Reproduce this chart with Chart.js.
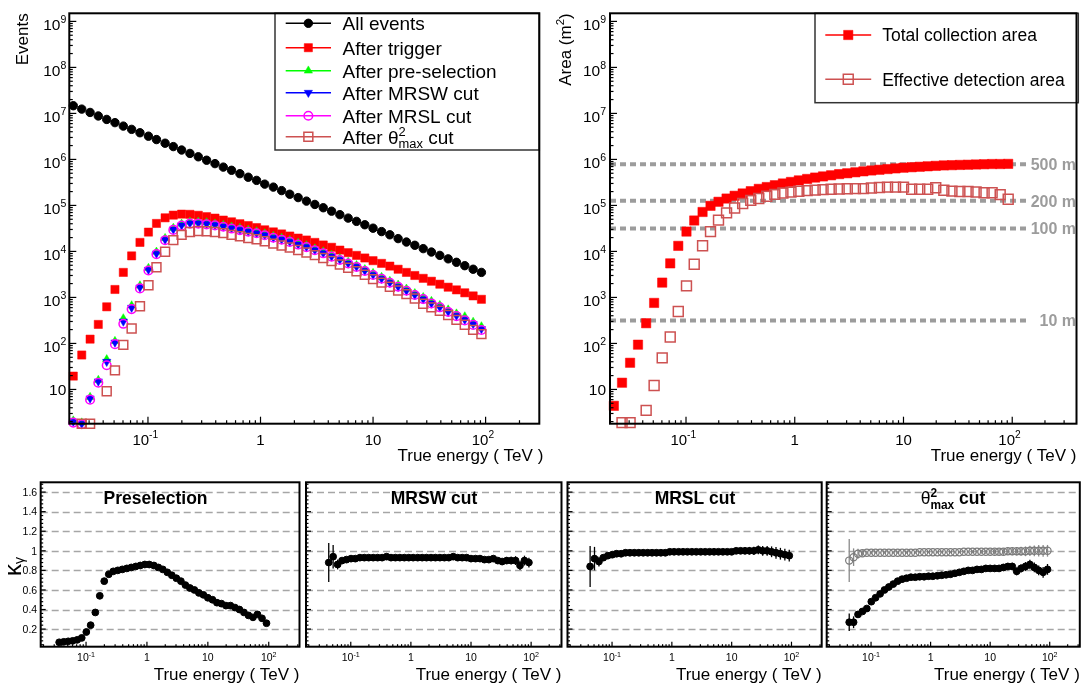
<!DOCTYPE html>
<html>
<head>
<meta charset="utf-8">
<title>Event selection and collection area</title>
<script src="https://cdn.jsdelivr.net/npm/chart.js@4.4.1/dist/chart.umd.min.js"></script>
<style>
  html, body { margin: 0; padding: 0; background: #fff; }
  #page { position: relative; width: 1085px; height: 684px; overflow: hidden; }
  #page canvas { position: absolute; left: 0; top: 0; }
</style>
</head>
<body>
<div id="page">
  <canvas id="events" width="1085" height="684"></canvas>
  <canvas id="area" width="1085" height="684"></canvas>
  <canvas id="kPre" width="1085" height="684"></canvas>
  <canvas id="kMRSW" width="1085" height="684"></canvas>
  <canvas id="kMRSL" width="1085" height="684"></canvas>
  <canvas id="kTheta" width="1085" height="684"></canvas>
</div>
<script>
const FONT = "'Liberation Sans', Arial, Helvetica, sans-serif";
const W = 1085, H = 684;

// bin centres in true energy (TeV)
const energy = [
  0.0217, 0.0258, 0.0306, 0.0362, 0.0430, 0.0509, 0.0604, 0.0716, 0.0849, 0.101,
  0.119, 0.142, 0.168, 0.199, 0.236, 0.280, 0.332, 0.394, 0.467, 0.553,
  0.656, 0.778, 0.923, 1.09, 1.30, 1.54, 1.82, 2.16, 2.56, 3.04,
  3.61, 4.28, 5.07, 6.01, 7.13, 8.45, 10.0, 11.9, 14.1, 16.7,
  19.8, 23.5, 27.9, 33.0, 39.2, 46.5, 55.1, 65.3, 77.5, 91.8
];

// event counts per bin
const allEvents = [
  1.47e7, 1.24e7, 1.05e7, 8.8e6, 7.4e6, 6.3e6, 5.3e6, 4.5e6, 3.8e6, 3.2e6,
  2.7e6, 2.25e6, 1.9e6, 1.6e6, 1.35e6, 1.14e6, 9.6e5, 8.1e5, 6.8e5, 5.8e5,
  4.9e5, 4.1e5, 3.5e5, 2.9e5, 2.5e5, 2.1e5, 1.75e5, 1.48e5, 1.24e5, 1.05e5,
  8.9e4, 7.5e4, 6.3e4, 5.3e4, 4.5e4, 3.8e4, 3.2e4, 2.7e4, 2.3e4, 1.9e4,
  1.6e4, 1.36e4, 1.15e4, 9.7e3, 8.2e3, 6.9e3, 5.8e3, 4.9e3, 4.1e3, 3.5e3
];
const afterTrigger = [
  19.5, 56, 124, 259, 625, 1490, 3500, 8000, 1.57e4, 2.63e4,
  4.06e4, 5.38e4, 6.15e4, 6.47e4, 6.4e4, 6.1e4, 5.7e4, 5.3e4, 4.8e4, 4.4e4,
  4.0e4, 3.65e4, 3.3e4, 2.95e4, 2.66e4, 2.4e4, 2.16e4, 1.95e4, 1.77e4, 1.57e4,
  1.38e4, 1.23e4, 1.07e4, 9.4e3, 8.2e3, 7.2e3, 6.3e3, 5.5e3, 4.8e3, 4.1e3,
  3.5e3, 3.0e3, 2.6e3, 2.25e3, 1.94e3, 1.67e3, 1.46e3, 1.26e3, 1.08e3, 910
];
const afterPresel = [
  2.1, 1.9, 6.8, 16, 45, 112, 349, 667, 1810, 4350,
  9780, 1.94e4, 3.23e4, 3.98e4, 4.41e4, 4.41e4, 4.25e4, 3.99e4, 3.76e4, 3.44e4,
  3.19e4, 2.92e4, 2.69e4, 2.44e4, 2.15e4, 1.96e4, 1.75e4, 1.53e4, 1.34e4, 1.15e4,
  9900, 8400, 7000, 5900, 5000, 4090, 3370, 2770, 2270, 1880,
  1540, 1230, 1010, 831, 678, 543, 444, 385, 293, 234
];
const afterMRSW = [
  2.0, 1.8, 6.4, 15, 40, 105, 300, 600, 1650, 4000,
  9000, 1.8e4, 3.0e4, 3.7e4, 4.1e4, 4.1e4, 3.95e4, 3.75e4, 3.5e4, 3.2e4,
  2.97e4, 2.72e4, 2.5e4, 2.27e4, 2.0e4, 1.82e4, 1.63e4, 1.42e4, 1.25e4, 1.07e4,
  9200, 7800, 6600, 5500, 4650, 3800, 3100, 2550, 2090, 1710,
  1400, 1130, 912, 740, 610, 489, 400, 327, 264, 206
];
const afterMRSL = [
  1.9, 1.75, 6.0, 14, 33.6, 96.6, 267, 558, 1570, 3840,
  8730, 1.75e4, 2.94e4, 3.63e4, 4.02e4, 4.02e4, 3.87e4, 3.68e4, 3.43e4, 3.14e4,
  2.91e4, 2.67e4, 2.48e4, 2.25e4, 1.98e4, 1.80e4, 1.61e4, 1.41e4, 1.24e4, 1.06e4,
  9100, 7700, 6500, 5450, 4600, 3760, 3070, 2550, 2090, 1710,
  1400, 1130, 921, 740, 610, 484, 392, 317, 253, 196
];
const afterTheta = [
  null, 1.8, 1.8, null, 9.1, 26, 93, 212, 643, 1840,
  4540, 9800, 1.76e4, 2.29e4, 2.65e4, 2.77e4, 2.75e4, 2.65e4, 2.5e4, 2.29e4,
  2.14e4, 1.96e4, 1.84e4, 1.67e4, 1.48e4, 1.35e4, 1.22e4, 1.07e4, 9500, 8300,
  7200, 6200, 5200, 4400, 3700, 3100, 2500, 2100, 1710, 1420,
  1180, 950, 728, 607, 512, 416, 325, 254, 197, 159
];

// areas in m^2
const totalArea = [
  4.4, 14, 38, 94, 275, 760, 2100, 5500, 1.32e4, 2.7e4,
  4.7e4, 7.2e4, 9.8e4, 1.2e5, 1.41e5, 1.62e5, 1.82e5, 2.04e5, 2.29e5, 2.51e5,
  2.75e5, 3.0e5, 3.24e5, 3.5e5, 3.76e5, 4.03e5, 4.27e5, 4.52e5, 4.79e5, 5.0e5,
  5.25e5, 5.5e5, 5.75e5, 5.96e5, 6.17e5, 6.38e5, 6.6e5, 6.76e5, 6.92e5, 7.08e5,
  7.24e5, 7.41e5, 7.5e5, 7.59e5, 7.67e5, 7.76e5, 7.85e5, 7.94e5, 7.94e5, 8.0e5
];
const effArea = [
  null, 1.9, 1.9, null, 3.5, 12.2, 48.5, 138, 495, 1780,
  5250, 1.33e4, 2.7e4, 4.8e4, 6.9e4, 8.8e4, 1.1e5, 1.29e5, 1.41e5, 1.58e5,
  1.74e5, 1.86e5, 1.95e5, 2.03e5, 2.1e5, 2.15e5, 2.2e5, 2.25e5, 2.28e5, 2.3e5,
  2.32e5, 2.32e5, 2.4e5, 2.45e5, 2.5e5, 2.5e5, 2.5e5, 2.25e5, 2.25e5, 2.25e5,
  2.42e5, 2.14e5, 2.05e5, 2.0e5, 2.0e5, 1.96e5, 1.88e5, 1.88e5, 1.72e5, 1.36e5
];

// cut efficiencies (kappa) and their errors
const kappaPresel = [
  null, null, null, 0.065, 0.07, 0.075, 0.08, 0.09, 0.11, 0.17,
  0.24, 0.37, 0.54, 0.69, 0.76, 0.79, 0.80, 0.81, 0.82, 0.83,
  0.84, 0.85, 0.86, 0.86, 0.85, 0.83, 0.81, 0.78, 0.75, 0.72,
  0.69, 0.65, 0.62, 0.60, 0.57, 0.55, 0.52, 0.50, 0.47, 0.46,
  0.44, 0.44, 0.42, 0.40, 0.37, 0.34, 0.32, 0.35, 0.31, 0.26
];
const kappaMRSW = [
  null, null, null, null, 0.88, 0.94, 0.86, 0.90, 0.91, 0.92,
  0.92, 0.93, 0.93, 0.93, 0.93, 0.93, 0.93, 0.94, 0.93, 0.93,
  0.93, 0.93, 0.93, 0.93, 0.93, 0.93, 0.93, 0.93, 0.93, 0.93,
  0.93, 0.93, 0.94, 0.93, 0.93, 0.93, 0.92, 0.92, 0.92, 0.91,
  0.91, 0.92, 0.90, 0.89, 0.90, 0.90, 0.90, 0.85, 0.90, 0.88
];
const errMRSW = [
  null, null, null, null, 0.20, 0.12, 0.05, 0.03, 0.02, 0.015,
  0.01, 0.01, 0.01, 0.01, 0.01, 0.01, 0.01, 0.01, 0.01, 0.01,
  0.01, 0.01, 0.01, 0.01, 0.01, 0.01, 0.01, 0.01, 0.012, 0.012,
  0.012, 0.014, 0.014, 0.016, 0.016, 0.018, 0.02, 0.02, 0.022, 0.024,
  0.026, 0.028, 0.03, 0.032, 0.035, 0.038, 0.045, 0.045, 0.05, 0.05
];
const kappaMRSL = [
  null, null, null, null, 0.84, 0.92, 0.89, 0.93, 0.95, 0.96,
  0.97, 0.97, 0.98, 0.98, 0.98, 0.98, 0.98, 0.98, 0.98, 0.98,
  0.98, 0.98, 0.99, 0.99, 0.99, 0.99, 0.99, 0.99, 0.99, 0.99,
  0.99, 0.99, 0.99, 0.99, 0.99, 0.99, 0.99, 1.00, 1.00, 1.00,
  1.00, 1.00, 1.01, 1.00, 1.00, 0.99, 0.98, 0.97, 0.96, 0.95
];
const errMRSL = [
  null, null, null, null, 0.21, 0.12, 0.05, 0.03, 0.02, 0.015,
  0.01, 0.01, 0.01, 0.01, 0.01, 0.01, 0.01, 0.01, 0.01, 0.01,
  0.01, 0.01, 0.01, 0.01, 0.01, 0.01, 0.01, 0.01, 0.012, 0.014,
  0.016, 0.018, 0.02, 0.022, 0.024, 0.026, 0.028, 0.03, 0.032, 0.035,
  0.038, 0.042, 0.045, 0.05, 0.05, 0.055, 0.06, 0.06, 0.06, 0.06
];
const kappaTheta = [
  null, null, null, null, 0.27, 0.27, 0.35, 0.38, 0.41, 0.48,
  0.52, 0.56, 0.60, 0.63, 0.66, 0.69, 0.71, 0.72, 0.73, 0.73,
  0.735, 0.735, 0.74, 0.74, 0.745, 0.75, 0.755, 0.76, 0.77, 0.78,
  0.79, 0.80, 0.80, 0.81, 0.81, 0.82, 0.82, 0.82, 0.82, 0.83,
  0.84, 0.84, 0.79, 0.82, 0.84, 0.86, 0.83, 0.80, 0.78, 0.81
];
const errTheta = [
  null, null, null, null, 0.09, 0.06, 0.03, 0.025, 0.02, 0.015,
  0.01, 0.01, 0.01, 0.01, 0.01, 0.01, 0.01, 0.01, 0.01, 0.01,
  0.01, 0.01, 0.01, 0.01, 0.01, 0.01, 0.01, 0.01, 0.01, 0.01,
  0.012, 0.014, 0.016, 0.018, 0.02, 0.022, 0.025, 0.028, 0.03, 0.032,
  0.035, 0.038, 0.04, 0.042, 0.045, 0.048, 0.05, 0.05, 0.055, 0.055
];
const kappaThetaOpen = [
  null, null, null, null, 0.90, 0.935, 0.97, 0.975, 0.98, 0.98,
  0.98, 0.98, 0.98, 0.98, 0.98, 0.98, 0.98, 0.98, 0.98, 0.98,
  0.985, 0.985, 0.985, 0.985, 0.985, 0.985, 0.985, 0.985, 0.985, 0.985,
  0.99, 0.99, 0.99, 0.99, 0.99, 0.99, 0.99, 0.99, 0.99, 0.99,
  0.995, 0.995, 0.995, 0.995, 0.995, 1.0, 1.0, 1.0, 1.0, 1.0
];
const errThetaOpen = [
  null, null, null, null, 0.22, 0.09, 0.05, 0.03, 0.02, 0.015,
  0.01, 0.01, 0.01, 0.01, 0.01, 0.01, 0.01, 0.01, 0.01, 0.01,
  0.01, 0.01, 0.01, 0.01, 0.01, 0.01, 0.01, 0.01, 0.01, 0.01,
  0.012, 0.014, 0.016, 0.018, 0.02, 0.022, 0.025, 0.028, 0.03, 0.033,
  0.036, 0.04, 0.043, 0.046, 0.05, 0.052, 0.055, 0.058, 0.06, 0.06
];

// detector radii for the area guides (m) and where the guides stop (TeV)
const radiiM = [500, 200, 100, 10];
const refLineEnd = 134;

const seriesNames = ['All events', 'After trigger', 'After pre-selection', 'After MRSW cut', 'After MRSL cut', 'After θ²max cut'];
const areaNames = ['Total collection area', 'Effective detection area'];
const panelTitles = ['Preselection', 'MRSW cut', 'MRSL cut', 'θ²max cut'];
const kappaTicks = [0.2, 0.4, 0.6, 0.8, 1, 1.2, 1.4, 1.6];
const xDecades = [-1, 0, 1, 2];
const yDecades = [1, 2, 3, 4, 5, 6, 7, 8, 9];

function series(vals) {
  return energy.map((x, i) => ({ x: x, y: vals[i] }));
}

function fontStr(size, bold) {
  return (bold ? 'bold ' : '') + size + 'px ' + FONT;
}

// text made of runs; a run with under:true sits under the previous one (sub below sup)
function drawRuns(ctx, runs, x, y, align, color) {
  const w = runs.map(r => { ctx.font = fontStr(r.size, r.bold); return ctx.measureText(r.t).width; });
  const pos = [];
  let cx = 0, lastStart = 0, lastW = 0;
  runs.forEach((r, i) => {
    if (r.under) {
      pos.push(lastStart);
      lastW = Math.max(lastW, w[i]);
      cx = lastStart + lastW;
    } else {
      pos.push(cx);
      lastStart = cx; lastW = w[i];
      cx += w[i];
    }
  });
  const x0 = align === 'right' ? x - cx : align === 'center' ? x - cx / 2 : x;
  ctx.save();
  ctx.fillStyle = color || '#000';
  ctx.textAlign = 'left';
  ctx.textBaseline = 'alphabetic';
  runs.forEach((r, i) => {
    ctx.font = fontStr(r.size, r.bold);
    ctx.fillText(r.t, x0 + pos[i], y + (r.dy || 0));
  });
  ctx.restore();
}

function richLabel(text, size, bold) {
  const i = text.indexOf('θ²max');
  if (i < 0) return [{ t: text, size: size, bold: bold }];
  const s = size * 0.68;
  return [
    { t: text.slice(0, i), size: size, bold: bold },
    { t: 'θ', size: size, bold: false },
    { t: '2', size: s, bold: bold, dy: -size * 0.42 },
    { t: 'max', size: s, bold: bold, dy: size * 0.26, under: true },
    { t: text.slice(i + 5), size: size, bold: bold }
  ];
}

function powRuns(e, size) {
  if (e === 0) return [{ t: '1', size: size }];
  if (e === 1) return [{ t: '10', size: size }];
  return [{ t: '10', size: size }, { t: String(e), size: size * 0.68, dy: -size * 0.45 }];
}

function logTicks(min, max) {
  const out = [];
  for (let e = Math.floor(Math.log10(min)); e <= Math.ceil(Math.log10(max)); e++) {
    for (let m = 1; m <= 9; m++) {
      const v = m * Math.pow(10, e);
      if (v > min && v < max) out.push({ v: v, major: m === 1 });
    }
  }
  return out;
}

function drawMarker(ctx, ds, x, y) {
  const r = ds.pointRadius;
  ctx.save();
  ctx.fillStyle = ds.pointBackgroundColor;
  ctx.strokeStyle = ds.pointBorderColor;
  ctx.lineWidth = ds.pointBorderWidth;
  ctx.beginPath();
  if (ds.pointStyle === 'circle') {
    ctx.arc(x, y, r, 0, Math.PI * 2);
  } else if (ds.pointStyle === 'rect') {
    const h = r * Math.SQRT1_2;
    ctx.rect(x - h, y - h, 2 * h, 2 * h);
  } else {
    let a = (ds.pointRotation || 0) * Math.PI / 180;
    for (let k = 0; k < 3; k++) {
      ctx.lineTo(x + Math.sin(a) * r, y - Math.cos(a) * r);
      a += Math.PI * 2 / 3;
    }
    ctx.closePath();
  }
  ctx.fill();
  ctx.stroke();
  ctx.restore();
}

function drawLegend(chart, L) {
  const ctx = chart.ctx;
  const b = L.box;
  ctx.save();
  ctx.fillStyle = '#fff';
  ctx.fillRect(b[0], b[1], b[2] - b[0], b[3] - b[1]);
  ctx.strokeStyle = '#333';
  ctx.lineWidth = 1.5;
  ctx.strokeRect(b[0], b[1], b[2] - b[0], b[3] - b[1]);
  L.rows.forEach((rowY, k) => {
    const ds = chart.data.datasets[k];
    ctx.strokeStyle = ds.pointBorderColor;
    ctx.lineWidth = 1.5;
    ctx.beginPath();
    ctx.moveTo(L.line[0], rowY);
    ctx.lineTo(L.line[1], rowY);
    ctx.stroke();
    drawMarker(ctx, ds, (L.line[0] + L.line[1]) / 2, rowY);
    drawRuns(ctx, richLabel(L.names[k], L.size, false), L.textX, rowY + 0.36 * L.size, 'left');
  });
  ctx.restore();
}

// error bars under each point that carries a yErr entry
const errorBars = {
  id: 'errorBars',
  beforeDatasetDraw(chart, args) {
    const ds = chart.data.datasets[args.index];
    if (!ds.yErr) return;
    const ctx = chart.ctx, ys = chart.scales.y;
    ctx.save();
    ctx.strokeStyle = ds.errColor || ds.pointBorderColor;
    ctx.lineWidth = 1.3;
    args.meta.data.forEach((pt, i) => {
      const v = ds.data[i].y, e = ds.yErr[i];
      if (v == null || !e) return;
      ctx.beginPath();
      ctx.moveTo(pt.x, ys.getPixelForValue(v - e));
      ctx.lineTo(pt.x, ys.getPixelForValue(v + e));
      ctx.stroke();
    });
    ctx.restore();
  }
};

// frame, inward ticks, labels and titles in the style of the analysis plots
function framePlugin(cfg) {
  return {
    id: 'frame',
    beforeDatasetsDraw(chart) {
      if (!cfg.hGrid) return;
      const { ctx, chartArea: a, scales: { y } } = chart;
      ctx.save();
      ctx.strokeStyle = '#a6a6a6';
      ctx.lineWidth = 1.3;
      ctx.setLineDash([7, 4]);
      cfg.hGrid.forEach(v => {
        const py = Math.round(y.getPixelForValue(v)) + 0.5;
        ctx.beginPath();
        ctx.moveTo(a.left, py);
        ctx.lineTo(a.right, py);
        ctx.stroke();
      });
      ctx.restore();
    },
    afterDatasetsDraw(chart) {
      const { ctx, chartArea: a, scales: { x, y } } = chart;
      if (cfg.extra) cfg.extra(chart);
      ctx.save();
      ctx.strokeStyle = '#000';
      ctx.lineWidth = 1.2;
      logTicks(x.min, x.max).forEach(t => {
        const px = x.getPixelForValue(t.v);
        const len = t.major ? cfg.tickMajor : cfg.tickMinor;
        ctx.beginPath();
        ctx.moveTo(px, a.bottom);
        ctx.lineTo(px, a.bottom - len);
        ctx.stroke();
      });
      let yt;
      if (y.type === 'logarithmic') {
        yt = logTicks(y.min, y.max);
      } else {
        yt = [];
        for (let k = 1; k * 0.04 < y.max; k++) {
          if (k * 0.04 > y.min) yt.push({ v: k * 0.04, major: k % 5 === 0 });
        }
      }
      yt.forEach(t => {
        const py = y.getPixelForValue(t.v);
        const len = t.major ? cfg.tickMajor : cfg.tickMinor;
        ctx.beginPath();
        ctx.moveTo(a.left, py);
        ctx.lineTo(a.left + len, py);
        ctx.stroke();
      });
      ctx.lineWidth = 2;
      ctx.strokeRect(a.left, a.top, a.right - a.left, a.bottom - a.top);
      ctx.restore();

      // x tick labels
      const xs = cfg.xLabelSize;
      xDecades.forEach(e => {
        const px = x.getPixelForValue(Math.pow(10, e)) + (e < 0 || e > 1 ? cfg.expShift : 0);
        drawRuns(ctx, powRuns(e, xs), px, a.bottom + cfg.xLabelGap + 0.36 * xs, 'center');
      });
      // y tick labels
      if (cfg.yLabels === 'log') {
        const s = cfg.yLabelSize;
        yDecades.forEach(e => {
          const py = y.getPixelForValue(Math.pow(10, e));
          drawRuns(ctx, powRuns(e, s), a.left - cfg.yLabelGap, py + 0.36 * s + (e > 1 ? 0.2 * s : 0), 'right');
        });
      } else if (cfg.yLabels === 'lin') {
        const s = cfg.yLabelSize;
        kappaTicks.forEach(v => {
          const py = y.getPixelForValue(v);
          drawRuns(ctx, [{ t: v === 1 ? '1' : v.toFixed(1), size: s }], a.left - cfg.yLabelGap, py + 0.36 * s, 'right');
        });
      }
      // axis titles
      drawRuns(ctx, [{ t: 'True energy ( TeV )', size: 17 }], a.right + cfg.xTitleDx, cfg.xTitleY, 'right');
      if (cfg.yTitle) {
        ctx.save();
        ctx.translate(cfg.yTitle.x, cfg.yTitle.y);
        ctx.rotate(-Math.PI / 2);
        drawRuns(ctx, cfg.yTitle.runs, 0, 0, cfg.yTitle.align);
        ctx.restore();
      }
      if (cfg.title) {
        drawRuns(ctx, richLabel(cfg.title, 17.5, true), cfg.titleX, 504, 'center');
      }
    }
  };
}

function makeChart(id, box, xr, yr, yType, datasets, cfg) {
  return new Chart(document.getElementById(id), {
    type: 'scatter',
    data: { datasets: datasets },
    options: {
      responsive: false,
      animation: false,
      events: [],
      devicePixelRatio: 1,
      layout: { padding: { left: 0, top: box.t, right: W - box.r, bottom: 0 } },
      plugins: { legend: { display: false }, tooltip: { enabled: false } },
      scales: {
        x: {
          type: 'logarithmic', min: xr[0], max: xr[1],
          ticks: { display: false }, grid: { display: false }, border: { display: false },
          afterFit: s => { s.height = H - box.b; }
        },
        y: {
          type: yType, min: yr[0], max: yr[1],
          ticks: { display: false }, grid: { display: false }, border: { display: false },
          afterFit: s => { s.width = box.l; }
        }
      }
    },
    plugins: [errorBars, framePlugin(cfg)]
  });
}

function markers(label, vals, style, order) {
  return Object.assign({ label: label, data: series(vals), showLine: false, clip: false, order: order }, style);
}

const OPEN = 'rgba(0,0,0,0)';
const THETA_RED = '#cd5151';
const styleBlack = { pointStyle: 'circle', pointRadius: 4.2, pointBackgroundColor: '#000', pointBorderColor: '#000', pointBorderWidth: 1 };
const styleRed = { pointStyle: 'rect', pointRadius: 5.8, pointBackgroundColor: '#ff0000', pointBorderColor: '#ff0000', pointBorderWidth: 0.5 };
const styleGreen = { pointStyle: 'triangle', pointRadius: 4.8, pointBackgroundColor: '#00ff00', pointBorderColor: '#00ff00', pointBorderWidth: 0.5 };
const styleBlue = { pointStyle: 'triangle', pointRotation: 180, pointRadius: 4.8, pointBackgroundColor: '#0000ff', pointBorderColor: '#0000ff', pointBorderWidth: 0.5 };
const styleMagenta = { pointStyle: 'circle', pointRadius: 4.3, pointBackgroundColor: OPEN, pointBorderColor: '#ff00ff', pointBorderWidth: 1.5 };
const styleTheta = { pointStyle: 'rect', pointRadius: 6.3, pointBackgroundColor: OPEN, pointBorderColor: THETA_RED, pointBorderWidth: 1.5 };

// ---- events per selection stage ----
const evBox = { l: 69.3, t: 13.3, r: 539.3, b: 423.7 };
makeChart('events', evBox, [0.02, 300], [1.8, 1.5e9], 'logarithmic', [
  markers(seriesNames[0], allEvents, styleBlack, 6),
  markers(seriesNames[1], afterTrigger, styleRed, 5),
  markers(seriesNames[2], afterPresel, styleGreen, 4),
  markers(seriesNames[3], afterMRSW, styleBlue, 3),
  markers(seriesNames[4], afterMRSL, styleMagenta, 2),
  markers(seriesNames[5], afterTheta, styleTheta, 1)
], {
  tickMajor: 7, tickMinor: 3.5,
  xLabelSize: 15, xLabelGap: 16, expShift: -2.7,
  yLabels: 'log', yLabelSize: 15.5, yLabelGap: 3,
  xTitleDx: 4, xTitleY: 460.5,
  yTitle: { x: 27.5, y: 13.3, align: 'right', runs: [{ t: 'Events', size: 17 }] },
  extra: chart => drawLegend(chart, {
    box: [275, 13.3, 539.3, 150],
    rows: [23.3, 47.7, 70.7, 92.7, 115.7, 136.7],
    line: [285.7, 331], textX: 342.5, size: 19, names: seriesNames
  })
});

// ---- collection areas ----
const arBox = { l: 610, t: 13.3, r: 1078.3, b: 423.7 };
const guideSets = radiiM.map(r => ({
  type: 'line', label: r + ' m',
  data: [{ x: 0.02, y: Math.PI * r * r }, { x: refLineEnd, y: Math.PI * r * r }],
  showLine: true, borderColor: '#9c9c9c', borderWidth: 4, borderDash: [6, 4],
  pointRadius: 0, order: 10, clip: false
}));
makeChart('area', arBox, [0.02, 390], [1.8, 1.5e9], 'logarithmic', [
  markers(areaNames[0], totalArea, Object.assign({}, styleRed, { pointRadius: 6.6 }), 2),
  markers(areaNames[1], effArea, Object.assign({}, styleTheta, { pointRadius: 7 }), 1)
].concat(guideSets), {
  tickMajor: 7, tickMinor: 3.5,
  xLabelSize: 15, xLabelGap: 16, expShift: -2.7,
  yLabels: 'log', yLabelSize: 15.5, yLabelGap: 4,
  xTitleDx: 0, xTitleY: 460.5,
  yTitle: { x: 571, y: 13.3, align: 'right', runs: [
    { t: 'Area (m', size: 17 }, { t: '2', size: 11.5, dy: -7.5 }, { t: ')', size: 17 }
  ] },
  extra: chart => {
    const ctx = chart.ctx, y = chart.scales.y;
    radiiM.forEach(r => {
      const py = y.getPixelForValue(Math.PI * r * r);
      drawRuns(ctx, [{ t: r + ' m', size: 16, bold: true }], 1076, py + 5.8, 'right', '#9c9c9c');
    });
    drawLegend(chart, {
      box: [815, 13.3, 1078.3, 102.7],
      rows: [35, 79.3],
      line: [825.3, 871.2], textX: 882.2, size: 17.5, names: areaNames
    });
  }
});

// ---- efficiency of each cut ----
const kTop = 482.3, kBottom = 646.7;
const kBoxes = [
  { l: 40.7, t: kTop, r: 299.5, b: kBottom },
  { l: 306, t: kTop, r: 561.5, b: kBottom },
  { l: 567.5, t: kTop, r: 821.7, b: kBottom },
  { l: 826.7, t: kTop, r: 1084, b: kBottom }
];
const titleX = [155.5, 434, 695, 953];
const kStyle = { pointStyle: 'circle', pointRadius: 3.4, pointBackgroundColor: '#000', pointBorderColor: '#000', pointBorderWidth: 1 };
const kOpenStyle = { pointStyle: 'circle', pointRadius: 3.6, pointBackgroundColor: OPEN, pointBorderColor: '#7a7a7a', pointBorderWidth: 1.2 };

function kappaCfg(k, extraY) {
  return Object.assign({
    hGrid: kappaTicks, tickMajor: 5, tickMinor: 2.5,
    xLabelSize: 10.5, xLabelGap: 11, expShift: 0,
    yLabels: null, xTitleDx: 0, xTitleY: 679.5,
    title: panelTitles[k], titleX: titleX[k]
  }, extraY || {});
}

makeChart('kPre', kBoxes[0], [0.018, 320], [0.02, 1.7], 'linear', [
  markers('Preselection', kappaPresel, kStyle, 1)
], kappaCfg(0, {
  yLabels: 'lin', yLabelSize: 10.5, yLabelGap: 3.5,
  yTitle: { x: 20.5, y: 576, align: 'left', runs: [{ t: 'κ', size: 24 }, { t: 'γ', size: 14, dy: 3 }] }
}));

makeChart('kMRSW', kBoxes[1], [0.018, 320], [0.02, 1.7], 'linear', [
  Object.assign(markers('MRSW cut', kappaMRSW, kStyle, 1), { yErr: errMRSW })
], kappaCfg(1));

makeChart('kMRSL', kBoxes[2], [0.018, 320], [0.02, 1.7], 'linear', [
  Object.assign(markers('MRSL cut', kappaMRSL, kStyle, 1), { yErr: errMRSL })
], kappaCfg(2));

makeChart('kTheta', kBoxes[3], [0.018, 320], [0.02, 1.7], 'linear', [
  Object.assign(markers('θ² cut, open', kappaThetaOpen, kOpenStyle, 2), { yErr: errThetaOpen, errColor: '#8a8a8a' }),
  Object.assign(markers('θ² cut', kappaTheta, kStyle, 1), { yErr: errTheta })
], kappaCfg(3));
</script>
</body>
</html>
